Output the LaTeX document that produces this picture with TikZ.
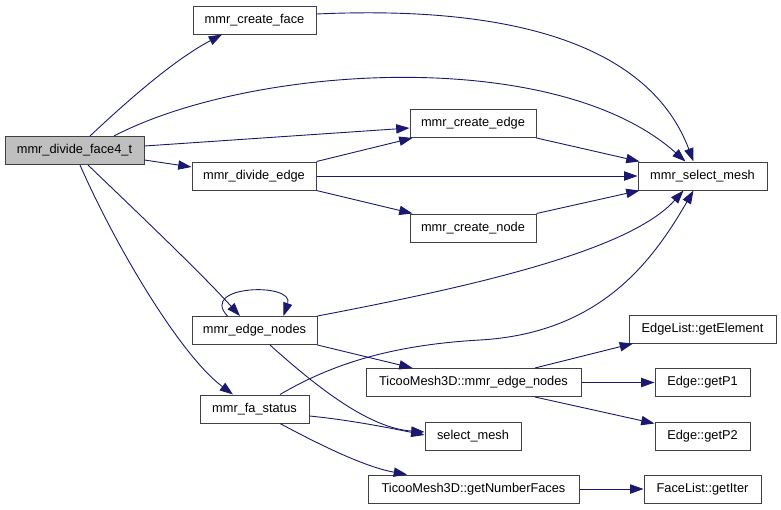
\documentclass[tikz,border=0pt]{standalone}
\usepackage{fontspec}
\setmainfont{Liberation Sans}
\usetikzlibrary{arrows.meta}
\definecolor{edgec}{HTML}{191970}
\definecolor{nodefill}{HTML}{BFBFBF}
\begin{document}
\begin{tikzpicture}[x=1pt,y=-1pt,
  box/.style={draw=black!75, line width=1pt, fill=white, inner sep=0pt, minimum height=28pt, font=\fontsize{12.8}{14}\selectfont},
  call/.style={draw=edgec, line width=0.9pt, -{Triangle[length=13.3pt,width=9.3pt]}}]
\useasboundingbox (0,0) rectangle (781,509);
% nodes
\node[box, minimum width=139pt, fill=nodefill] (f4) at (74.5,150.5) {mmr\_divide\_face4\_t};
\node[box, minimum width=123pt] (cf) at (254.5,20) {mmr\_create\_face};
\node[box, minimum width=124pt] (de) at (254,176) {mmr\_divide\_edge};
\node[box, minimum width=126pt] (ce) at (473,123.5) {mmr\_create\_edge};
\node[box, minimum width=129pt] (sm) at (702.5,176) {mmr\_select\_mesh};
\node[box, minimum width=126pt] (cn) at (473,228) {mmr\_create\_node};
\node[box, minimum width=125pt] (en) at (254.5,330.5) {mmr\_edge\_nodes};
\node[box, minimum width=109pt] (fa) at (254.5,409) {mmr\_fa\_status};
\node[box, minimum width=215pt] (te) at (473.5,382.5) {TicooMesh3D::mmr\_edge\_nodes};
\node[box, minimum width=96pt] (ssm) at (473,436) {select\_mesh};
\node[box, minimum width=211pt] (tf) at (473.5,489) {TicooMesh3D::getNumberFaces};
\node[box, minimum width=147pt] (ge) at (702.5,329) {EdgeList::getElement};
\node[box, minimum width=95pt] (p1) at (702.5,382.5) {Edge::getP1};
\node[box, minimum width=95pt] (p2) at (702.5,436) {Edge::getP2};
\node[box, minimum width=117pt] (gi) at (702.5,489) {FaceList::getIter};
% connectors
\draw[call] ([xshift=15.5pt]f4.north) .. controls (120,108) and (170,62) .. ([xshift=-32.5pt]cf.south);
\draw[call] ([xshift=39.5pt]f4.north) .. controls (250,65) and (555,45) .. ([xshift=-17pt]sm.north);
\draw[call] ([yshift=4.5pt]f4.east) -- ([yshift=-4.5pt]ce.west);
\draw[call] ([yshift=-9.5pt]f4.east) -- ([yshift=9pt]de.west);
\draw[call] ([xshift=13.5pt]f4.south) .. controls (140,215) and (200,272) .. ([xshift=-14.5pt]en.north);
\draw[call] ([xshift=5.5pt]f4.south) .. controls (115,245) and (180,355) .. ([xshift=-21.5pt]fa.north);
\draw[call] ([yshift=6pt]cf.east) .. controls (450,8) and (640,20) .. ([xshift=-9pt]sm.north);
\draw[call] (ce.south east) -- ([xshift=2pt]sm.north west);
\draw[call] (de.north east) -- ([xshift=3pt]ce.south west);
\draw[call] (de.east) -- (sm.west);
\draw[call] (de.south east) -- ([xshift=3pt]cn.north west);
\draw[call] (cn.north east) -- ([xshift=2pt]sm.south west);
\draw[call] ([xshift=-27pt]en.north) .. controls (198,285) and (295,282) .. ([xshift=29pt]en.north);
\draw[call] (en.north east) .. controls (480,285) and (630,250) .. ([xshift=-19pt]sm.south);
\draw[call] (en.south east) -- ([xshift=47pt]te.north west);
\draw[call] ([xshift=15.5pt]en.south) .. controls (320,390) and (370,428) .. ([yshift=4pt]ssm.west);
\draw[call] ([xshift=25.5pt]fa.north) .. controls (330,365) and (390,345) .. (480,340) .. controls (600,333) and (652,262) .. ([xshift=-9pt]sm.south);
\draw[call] ([yshift=-7pt]fa.east) .. controls (350,420) and (390,428) .. ([yshift=1pt]ssm.west);
\draw[call] ([xshift=25.5pt]fa.south) .. controls (320,445) and (365,467) .. ([xshift=-66.5pt]tf.north);
\draw[call] ([xshift=61.5pt]te.north) -- ([xshift=-69.5pt]ge.south);
\draw[call] (te.east) -- (p1.west);
\draw[call] ([xshift=61.5pt]te.south) -- ([yshift=-2pt]p2.north west);
\draw[call] (tf.east) -- (gi.west);
\end{tikzpicture}
\end{document}
